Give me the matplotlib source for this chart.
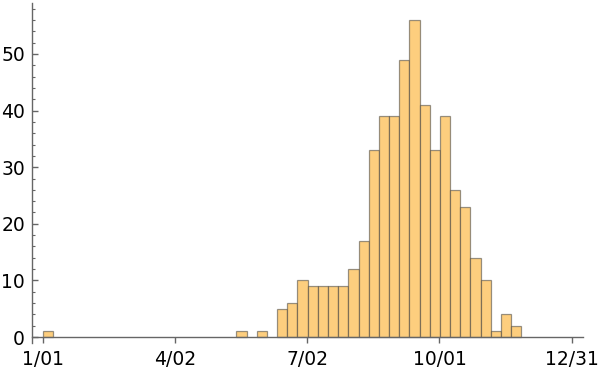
import matplotlib
matplotlib.use("Agg")
import matplotlib.pyplot as plt
import matplotlib.dates as mdates
import pandas as pd
import numpy as np
from matplotlib.ticker import MultipleLocator

# Weekly bin start dates and counts
bin_starts = ["2021-01-01", "2021-05-14", "2021-05-28",
              "2021-06-11", "2021-06-18", "2021-06-25", "2021-07-02", "2021-07-09",
              "2021-07-16", "2021-07-23", "2021-07-30", "2021-08-06", "2021-08-13",
              "2021-08-20", "2021-08-27", "2021-09-03", "2021-09-10", "2021-09-17",
              "2021-09-24", "2021-10-01", "2021-10-08", "2021-10-15", "2021-10-22",
              "2021-10-29", "2021-11-05", "2021-11-12", "2021-11-19"]
counts = [1, 1, 1,
          5, 6, 10, 9, 9,
          9, 9, 12, 17, 33,
          39, 39, 49, 56, 41,
          33, 39, 26, 23, 14,
          10, 1, 4, 2]
tick_dates = ["2021-01-01", "2021-04-02", "2021-07-02", "2021-10-01", "2021-12-31"]
tick_labels = ["1/01", "4/02", "7/02", "10/01", "12/31"]
y_ticks = [0, 10, 20, 30, 40, 50]

x = mdates.date2num(pd.to_datetime(bin_starts).to_pydatetime())
tx = mdates.date2num(pd.to_datetime(tick_dates).to_pydatetime())

fig = plt.figure(figsize=(6, 3.74), dpi=100)
ax = fig.add_axes([32/600, 1-342.7/374, (583-32)/600, (342.7-3)/374])

ax.bar(x + 0.3, counts, width=7, align="edge", color="#FDCE7E",
       edgecolor=(0.2, 0.2, 0.2, 0.5), linewidth=0.9)

ax.set_xlim(tx[0] - 7.4, tx[0] + 371.8)
ax.set_ylim(-1.0, 59)

for s in ["top", "right"]:
    ax.spines[s].set_visible(False)
ax.spines["bottom"].set_position(("data", 0))
for s in ["left", "bottom"]:
    ax.spines[s].set_color("#666666")
    ax.spines[s].set_linewidth(1.0)

ax.set_xticks(tx)
ax.set_xticklabels(tick_labels)
ax.set_yticks(y_ticks)
ax.yaxis.set_minor_locator(MultipleLocator(2))
ax.tick_params(axis="x", direction="out", length=4, width=1, color="#666666",
               labelsize=13.5, pad=5)
ax.tick_params(axis="y", which="major", direction="in", length=4, width=1,
               color="#666666", labelsize=13.5, pad=5)
ax.tick_params(axis="y", which="minor", direction="in", length=2.2, width=0.8,
               color="#666666")

fig.savefig("out.png", dpi=100)
